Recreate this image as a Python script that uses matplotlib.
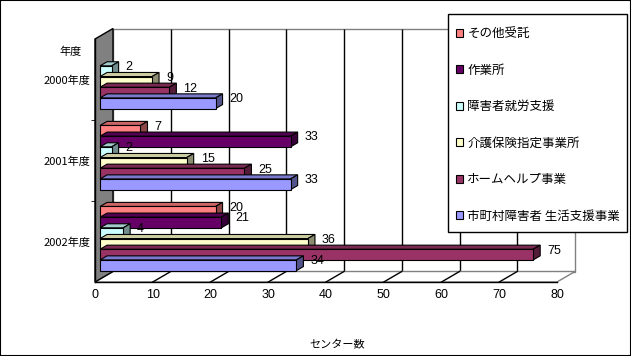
import numpy as np
import matplotlib
matplotlib.use('Agg')
import matplotlib.pyplot as plt
from matplotlib.patches import Polygon, Rectangle, Patch
from matplotlib.transforms import ScaledTranslation, IdentityTransform
from matplotlib.colors import to_rgb

plt.rcParams['font.family'] = ['Noto Sans CJK JP', 'DejaVu Sans']

# data (2000: no その他受託 / 作業所 bars)
years = ['2000年度', '2001年度', '2002年度']
series = ['その他受託', '作業所', '障害者就労支援', '介護保険指定事業所',
          'ホームヘルプ事業', '市町村障害者 生活支援事業']
sonota = [np.nan, 7, 20]
sagyousho = [np.nan, 33, 21]
shuurou = [2, 2, 4]
kaigo = [9, 15, 36]
homehelp = [12, 25, 75]
shichouson = [20, 33, 34]
values = [sonota, sagyousho, shuurou, kaigo, homehelp, shichouson]
colors = ['#ff8080', '#660066', '#ccffff', '#ffffcc', '#993366', '#9999ff']
xticks = [0, 10, 20, 30, 40, 50, 60, 70, 80]

W, H = 631, 356
fig = plt.figure(figsize=(W / 100, H / 100), dpi=100)

# front plane of the 3d box, in pixels
left, right, top, bottom = 95, 557, 39, 282
ax = fig.add_axes([left / W, 1 - bottom / H, (right - left) / W, (bottom - top) / H])
ax.set_xlim(0, 80)
ax.set_ylim(2.5, -0.5)
ax.patch.set_visible(False)

DX, DY = 18, 10.5                 # depth of the box (px)
BAR_FRONT, BAR_BACK = 0.28, 0.67  # bars sit inside that depth
BH = 0.132


def shift(d):
    return ax.transData + ScaledTranslation(d * DX / 100, d * DY / 100, fig.dpi_scale_trans)


def px(x, y, d):
    X, Y = ax.transData.transform((x, y))
    return (X + d * DX, Y + d * DY)


def poly(pts, fc, ec, z, lw=0.8):
    ax.add_patch(Polygon(pts, closed=True, facecolor=fc, edgecolor=ec, lw=lw,
                         transform=IdentityTransform(), zorder=z, clip_on=False))


def shade(c, f):
    return tuple(v * f for v in to_rgb(c))


# back wall with gridlines
ax.add_patch(Rectangle((0, -0.5), 80, 3, transform=shift(1), facecolor='white',
                       edgecolor='#808080', lw=1, zorder=0.5, clip_on=False))
ax.vlines(xticks[1:-1], -0.5, 2.5, colors='black', lw=1, transform=shift(1),
          zorder=0.6, clip_on=False)

# floor
poly([px(0, 2.5, 0), px(80, 2.5, 0), px(80, 2.5, 1), px(0, 2.5, 1)], 'white', '#808080', 0.7, lw=1)
for x in xticks[1:-1]:
    ax.plot(*zip(px(x, 2.5, 0), px(x, 2.5, 1)), color='black', lw=1,
            transform=IdentityTransform(), zorder=0.8, clip_on=False)

# left wall
poly([px(0, -0.5, 0), px(0, -0.5, 1), px(0, 2.5, 1), px(0, 2.5, 0)], '#808080', 'black', 0.9, lw=1)

# bars
ypos = np.arange(len(years))
for j, (vals, col) in enumerate(zip(values, colors)):
    y = ypos + (j - 2.5) * BH
    bars = ax.barh(y, vals, height=BH, color=col, edgecolor='black', lw=0.8,
                   transform=shift(BAR_FRONT), clip_on=False)
    for i, (b, v) in enumerate(zip(bars, vals)):
        if np.isnan(v):
            b.set_visible(False)
            continue
        z = 2 + (i * 6 + j) * 0.03
        b.set_zorder(z + 0.02)
        y0, y1 = y[i] - BH / 2, y[i] + BH / 2
        poly([px(0, y0, BAR_FRONT), px(v, y0, BAR_FRONT), px(v, y0, BAR_BACK), px(0, y0, BAR_BACK)],
             shade(col, 0.8), 'black', z)
        poly([px(v, y0, BAR_FRONT), px(v, y1, BAR_FRONT), px(v, y1, BAR_BACK), px(v, y0, BAR_BACK)],
             shade(col, 0.55), 'black', z + 0.01)
        ax.annotate(f'{v:g}', xy=(v, y[i]), xytext=(19, 7), textcoords='offset pixels',
                    ha='left', va='center', fontsize=9, family='Liberation Sans', zorder=5)

# axes
ax.spines[['top', 'right']].set_visible(False)
ax.spines[['left', 'bottom']].set_linewidth(1)
ax.set_xticks(xticks, labels=[str(t) for t in xticks], family='Liberation Sans', fontsize=9)
ax.tick_params(axis='x', length=0, pad=5)
ax.set_yticks(ypos, labels=years, fontsize=8)
ax.set_yticks([0.5, 1.5], minor=True)
ax.tick_params(axis='y', which='major', length=0, pad=3)
ax.tick_params(axis='y', which='minor', length=3, direction='out')

yl = ax.set_ylabel('年度', rotation=0, fontsize=8, ha='center', va='center')
ax.yaxis.set_label_coords(-0.052, 0.947)
ax.set_xlabel('センター数', fontsize=8, va='center')
ax.xaxis.set_label_coords(0.524, -0.259)

# legend: own box, entries placed inside it
fig.add_artist(Rectangle((448 / W, 1 - 232 / H), 179 / W, 218 / H, transform=fig.transFigure,
                         facecolor='white', edgecolor='black', lw=1, zorder=4))
handles = [Patch(facecolor=c, edgecolor='black', lw=0.8) for c in colors]
leg = fig.legend(handles, series, loc='upper left', bbox_to_anchor=(448 / W, 1 - 19.5 / H),
                 frameon=False, fontsize=9, labelspacing=1.88, handlelength=0.6,
                 handleheight=0.6, handletextpad=0.35, borderpad=0.6, borderaxespad=0)
leg.set_zorder(5)

fig.add_artist(Rectangle((0, 0), 1, 1, transform=fig.transFigure, fill=False,
                         edgecolor='black', lw=1.5))

fig.savefig('out.png', dpi=100)
